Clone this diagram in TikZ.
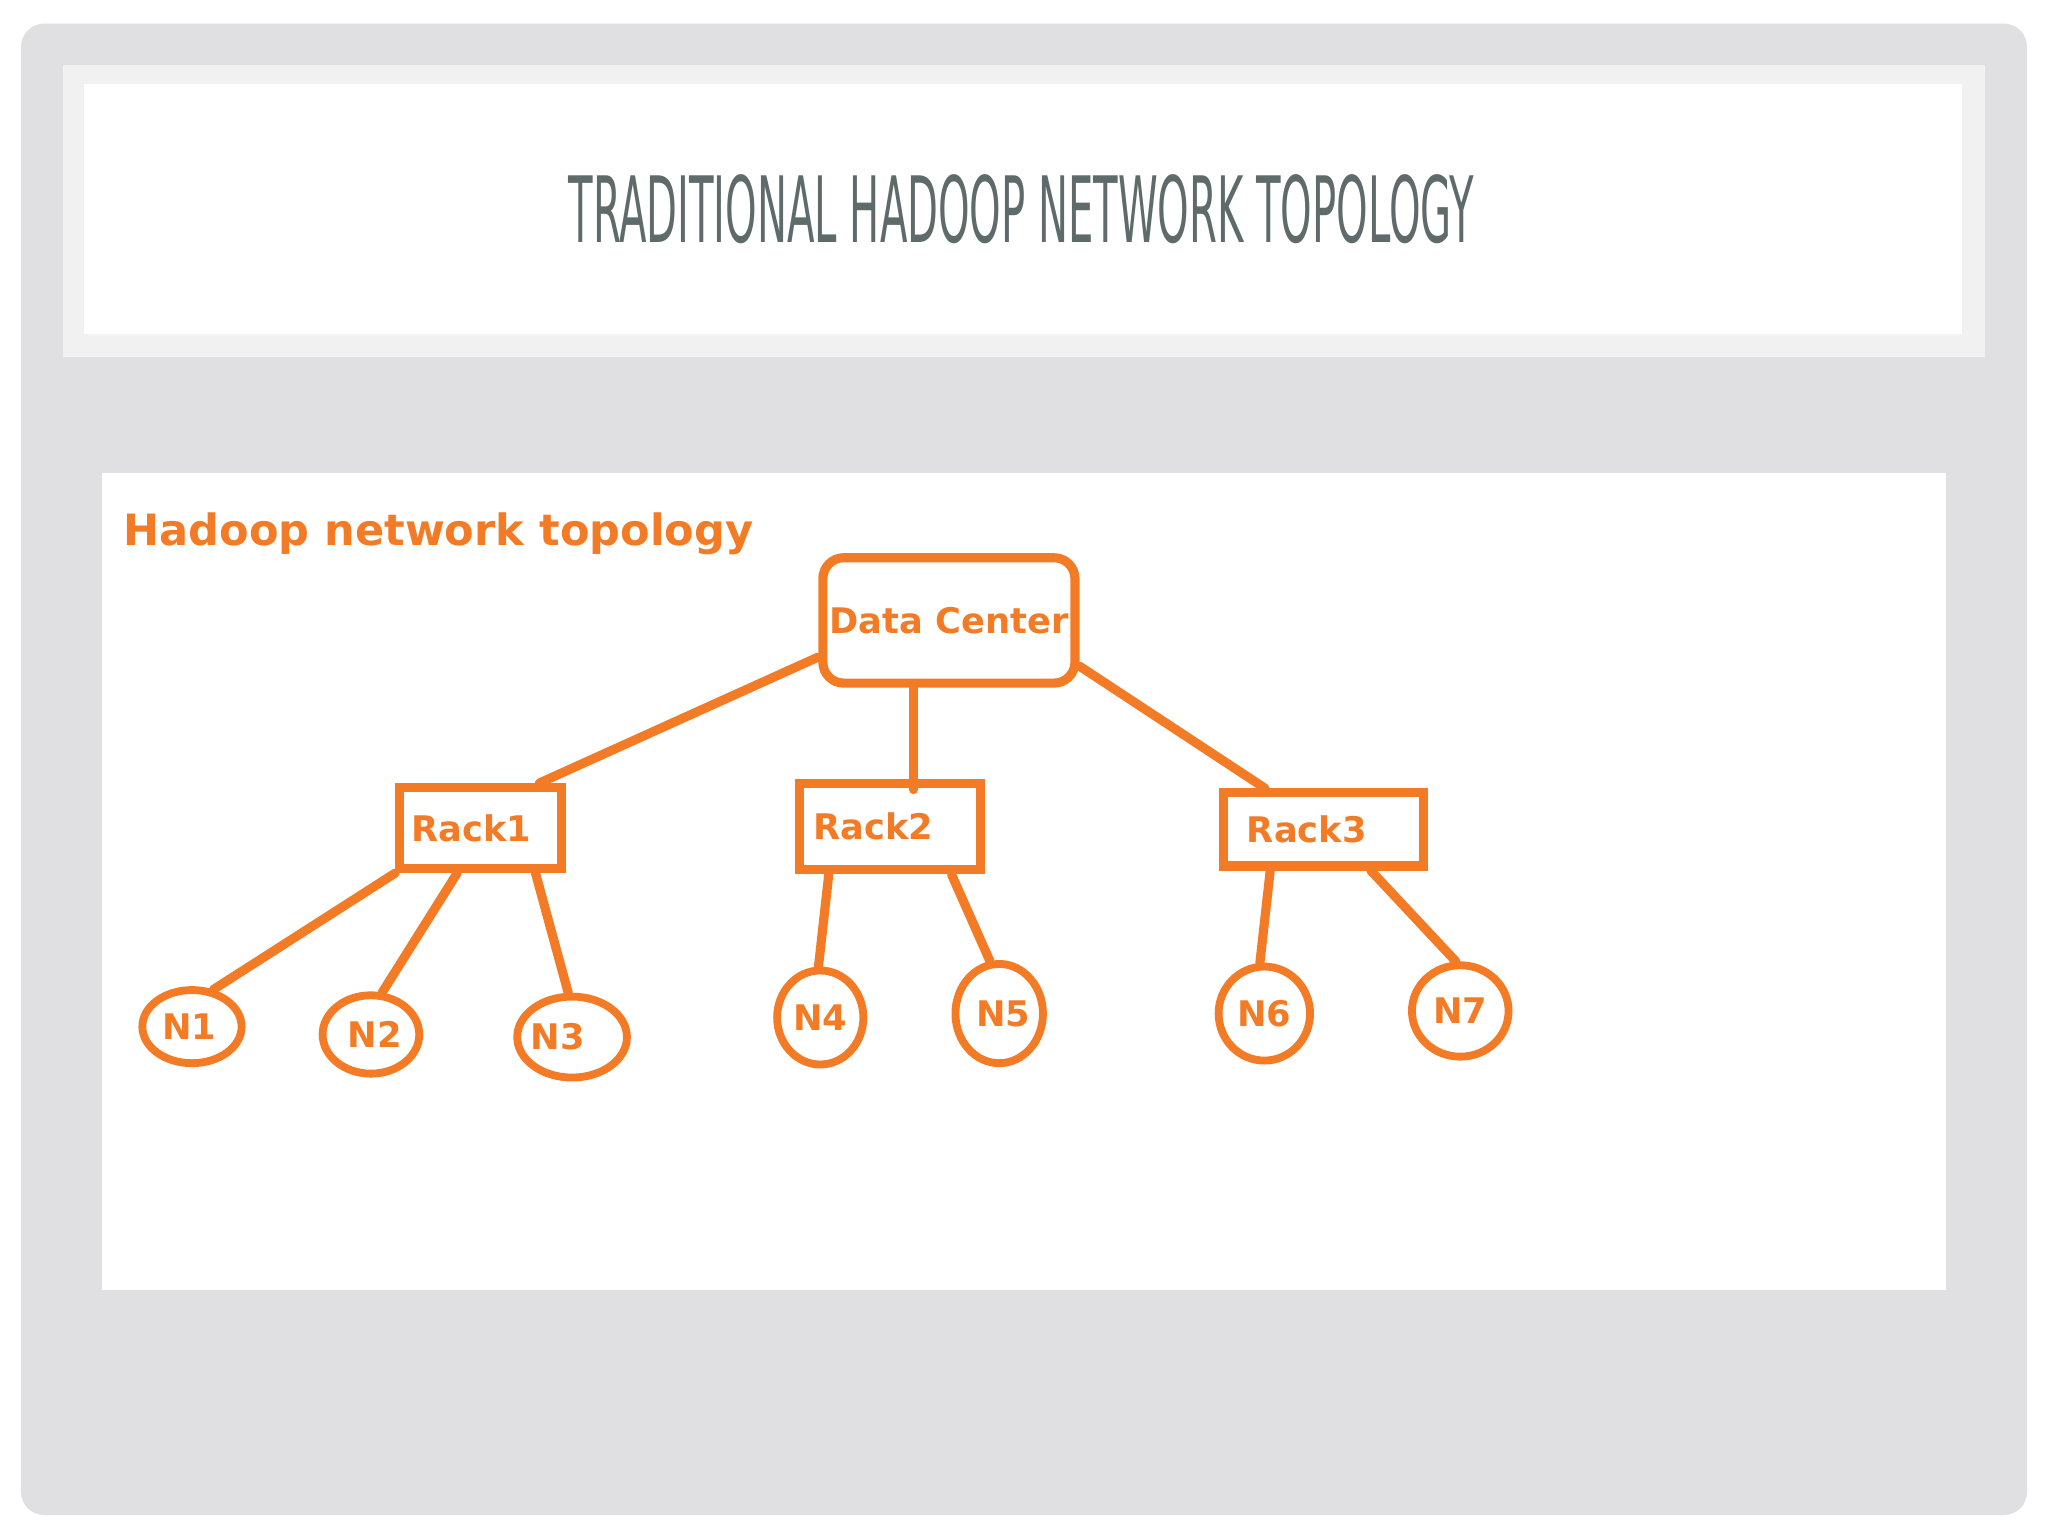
\documentclass[tikz,border=0pt]{standalone}
\usepackage{fontspec}
\setmainfont{DejaVu Sans}
\newfontfamily\condfont{DejaVu Sans Condensed}
\usetikzlibrary{shapes.geometric}
\definecolor{org}{HTML}{F47B25}
\definecolor{bggray}{HTML}{E0DFE1}
\definecolor{bandgray}{HTML}{F1F1F2}
\definecolor{titlegray}{HTML}{5F6B6B}
\tikzset{
  box/.style={draw=org,line width=7pt,inner sep=0pt,font=\fontsize{27}{29}\selectfont\bfseries,text=org},
  nd/.style={ellipse,draw=org,line width=6pt,inner sep=0pt,font=\fontsize{27}{29}\selectfont\bfseries,text=org},
  link/.style={draw=org,line width=7pt,line cap=round}
}
\begin{document}
\begin{tikzpicture}[x=1pt,y=-1pt]
\useasboundingbox (0,0) rectangle (1568,1176);
\fill[white] (0,0) rectangle (1568,1176);
\fill[bggray,rounded corners=18pt] (16,18) rectangle (1552,1160);
\fill[bandgray] (48,50) rectangle (1520,273);
\fill[white] (64,64) rectangle (1502,256);
\node[text=titlegray] (title) at (782,160) {\resizebox{693pt}{52pt}{\condfont TRADITIONAL HADOOP NETWORK TOPOLOGY}};
\fill[white] (78,362) rectangle (1490,988);
\node[anchor=west,text=org,font=\fontsize{33}{35}\selectfont\bfseries] (lbl) at (91,409) {Hadoop network topology};
\node[box,rounded corners=16pt,minimum width=193pt,minimum height=96pt] (dc) at (726.5,475) {\raisebox{-4pt}{Data Center}};
\node[box,minimum width=124pt,minimum height=62pt] (r1) at (368,634) {\hspace*{-14pt}\raisebox{-4pt}{Rack1}};
\node[box,minimum width=139pt,minimum height=66pt] (r2) at (681.5,633) {\hspace*{-26pt}Rack2};
\node[box,minimum width=153pt,minimum height=56pt] (r3) at (1013.5,635) {\hspace*{-26pt}Rack3};
\node[nd,minimum width=76pt,minimum height=56pt] (n1) at (147,786) {\hspace*{-4pt}N1};
\node[nd,minimum width=74pt,minimum height=60pt] (n2) at (284,792) {\hspace*{6pt}N2};
\node[nd,minimum width=84pt,minimum height=62pt] (n3) at (438,794) {\hspace*{-22pt}N3};
\node[nd,minimum width=66pt,minimum height=72pt] (n4) at (628,779) {N4};
\node[nd,minimum width=54pt,minimum height=76pt] (n5) at (765,776) {\hspace*{6pt}N5};
\node[nd,minimum width=70pt,minimum height=72pt] (n6) at (968,776) {N6};
\node[nd,minimum width=74pt,minimum height=70pt] (n7) at (1118,774) {N7};
\draw[link] ([yshift=-28pt]dc.west) -- ([xshift=45pt]r1.north);
\draw[link] ([xshift=-27pt]dc.south) -- ([xshift=18pt,yshift=-8pt]r2.north);
\draw[link] ([yshift=-35pt]dc.east) -- ([xshift=-45pt]r3.north);
\draw[link] (r1.south west) -- (n1.60);
\draw[link] ([xshift=-18pt]r1.south) -- (n2.75);
\draw[link] ([xshift=42pt]r1.south) -- (n3.95);
\draw[link] ([xshift=-47pt]r2.south) -- (n4.92);
\draw[link] ([xshift=47pt]r2.south) -- (n5.100);
\draw[link] ([xshift=-41pt]r3.south) -- (n6.95);
\draw[link] ([xshift=36pt]r3.south) -- (n7.95);
\end{tikzpicture}
\end{document}
